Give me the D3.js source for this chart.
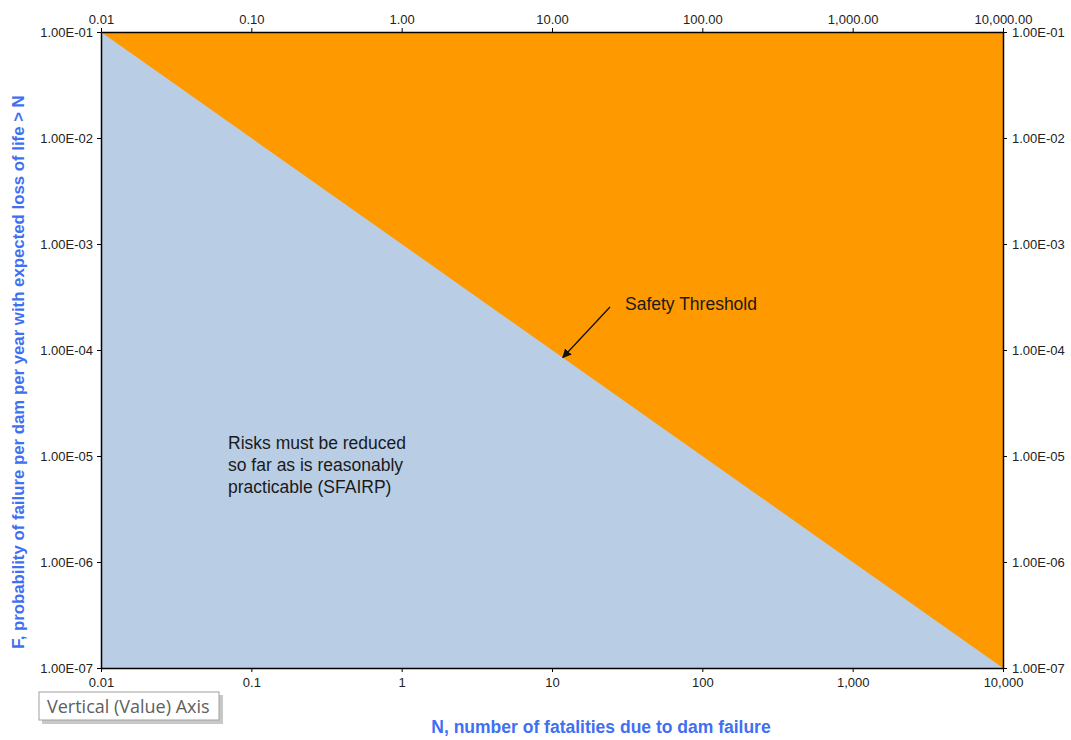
<!DOCTYPE html>
<html>
<head>
<meta charset="utf-8">
<script src="https://cdn.jsdelivr.net/npm/d3@7"></script>
<style>
  html, body { margin: 0; padding: 0; background: #ffffff; }
  svg { display: block; }
</style>
</head>
<body>
<svg id="chart" width="1071" height="740"></svg>
<script>
// F-N risk chart: tolerability threshold line F = 1e-3 / N
const nDomain = [0.01, 10000];
const fDomain = [1e-7, 1e-1];
const thresholdN = [0.01, 10000];
const thresholdF = [1e-1, 1e-7];
const xTicks = [0.01, 0.1, 1, 10, 100, 1000, 10000];
const xTickLabelsBottom = ["0.01", "0.1", "1", "10", "100", "1,000", "10,000"];
const xTickLabelsTop = ["0.01", "0.10", "1.00", "10.00", "100.00", "1,000.00", "10,000.00"];
const yTicks = [1e-1, 1e-2, 1e-3, 1e-4, 1e-5, 1e-6, 1e-7];
const yTickLabels = ["1.00E-01", "1.00E-02", "1.00E-03", "1.00E-04", "1.00E-05", "1.00E-06", "1.00E-07"];
const arrowTarget = { n: 11.8, f: 8.5e-5 };

const svg = d3.select("#chart");
const m = { left: 101, right: 1003, top: 32, bottom: 668 };

const x = d3.scaleLog().domain(nDomain).range([m.left, m.right]);
const y = d3.scaleLog().domain(fDomain).range([m.bottom, m.top]);

const tickFont = "Liberation Sans, Arial, sans-serif";

// Orange region above the threshold (whole plot background)
svg.append("rect")
  .attr("x", m.left).attr("y", m.top)
  .attr("width", m.right - m.left).attr("height", m.bottom - m.top)
  .attr("fill", "#ff9900");

// Blue region below the threshold
const below = thresholdN.map((n, i) => [x(n), y(thresholdF[i])]);
below.push([x(nDomain[1]), y(fDomain[0])]);
below.push([x(nDomain[0]), y(fDomain[0])]);
svg.append("path")
  .attr("d", d3.line()(below) + "Z")
  .attr("fill", "#b9cde5");

// Axes
const fmtIdx = (arr, ticks) => (d) => arr[ticks.findIndex(t => Math.abs(Math.log10(t) - Math.log10(d)) < 1e-9)];

const axBottom = svg.append("g").attr("transform", `translate(0,${m.bottom})`)
  .call(d3.axisBottom(x).tickValues(xTicks).tickFormat(fmtIdx(xTickLabelsBottom, xTicks)).tickSize(4).tickSizeOuter(0));
const axTop = svg.append("g").attr("transform", `translate(0,${m.top})`)
  .call(d3.axisTop(x).tickValues(xTicks).tickFormat(fmtIdx(xTickLabelsTop, xTicks)).tickSize(4).tickSizeOuter(0));
const axLeft = svg.append("g").attr("transform", `translate(${m.left},0)`)
  .call(d3.axisLeft(y).tickValues(yTicks).tickFormat(fmtIdx(yTickLabels, yTicks)).tickSize(4).tickSizeOuter(0));
const axRight = svg.append("g").attr("transform", `translate(${m.right},0)`)
  .call(d3.axisRight(y).tickValues(yTicks).tickFormat(fmtIdx(yTickLabels, yTicks)).tickSize(4).tickSizeOuter(0));

[axBottom, axTop, axLeft, axRight].forEach(g => {
  g.selectAll("path.domain").attr("stroke", "#000").attr("stroke-width", 1.5);
  g.selectAll(".tick line").attr("stroke", "#000");
  g.selectAll(".tick text").attr("font-family", tickFont).attr("font-size", 13).attr("fill", "#222");
});
axBottom.selectAll(".tick text").attr("dy", "1.1em").attr("y", 5);
axTop.selectAll(".tick text").attr("y", -8);
axLeft.selectAll(".tick text").attr("x", -8);
axRight.selectAll(".tick text").attr("x", 9);

// Axis titles
svg.append("text")
  .attr("x", 601).attr("y", 733)
  .attr("text-anchor", "middle")
  .attr("font-family", tickFont).attr("font-weight", "bold").attr("font-size", 17.5)
  .attr("fill", "#3f6ff2")
  .text("N, number of fatalities due to dam failure");

svg.append("text")
  .attr("transform", `translate(24,${(m.top + m.bottom) / 2 + 22}) rotate(-90)`)
  .attr("text-anchor", "middle")
  .attr("font-family", tickFont).attr("font-weight", "bold").attr("font-size", 16.8)
  .attr("fill", "#3f6ff2")
  .text("F, probability of failure per dam per year with expected loss of life > N");

// Annotations
svg.append("defs").append("marker")
  .attr("id", "arrowhead").attr("viewBox", "0 0 10 10")
  .attr("refX", 9).attr("refY", 5)
  .attr("markerWidth", 7).attr("markerHeight", 7)
  .attr("orient", "auto")
  .append("path").attr("d", "M0,0 L10,5 L0,10 Z").attr("fill", "#111");

const ax = x(arrowTarget.n), ay = y(arrowTarget.f);
svg.append("line")
  .attr("x1", 610).attr("y1", 307)
  .attr("x2", ax).attr("y2", ay)
  .attr("stroke", "#111").attr("stroke-width", 1.3)
  .attr("marker-end", "url(#arrowhead)");

svg.append("text")
  .attr("x", 625).attr("y", 310)
  .attr("font-family", tickFont).attr("font-size", 17.5).attr("fill", "#1a1a1a")
  .text("Safety Threshold");

const riskLines = ["Risks must be reduced", "so far as is reasonably", "practicable (SFAIRP)"];
svg.append("text")
  .attr("font-family", tickFont).attr("font-size", 17.5).attr("fill", "#1a1a1a")
  .selectAll("tspan").data(riskLines).join("tspan")
  .attr("x", 228).attr("y", (d, i) => 449 + i * 22)
  .text(d => d);

// Hover tooltip box
const tip = svg.append("g");
tip.append("rect")
  .attr("x", 42).attr("y", 695).attr("width", 181).attr("height", 29)
  .attr("fill", "#c8c8c8");
tip.append("rect")
  .attr("x", 39).attr("y", 692).attr("width", 180).attr("height", 28)
  .attr("fill", "#ffffff").attr("stroke", "#a0a0a0").attr("stroke-width", 1);
tip.append("text")
  .attr("x", 47).attr("y", 713)
  .attr("font-family", "Open Sans, Noto Sans, sans-serif").attr("font-size", 18)
  .attr("fill", "#606060")
  .text("Vertical (Value) Axis");
</script>
</body>
</html>
